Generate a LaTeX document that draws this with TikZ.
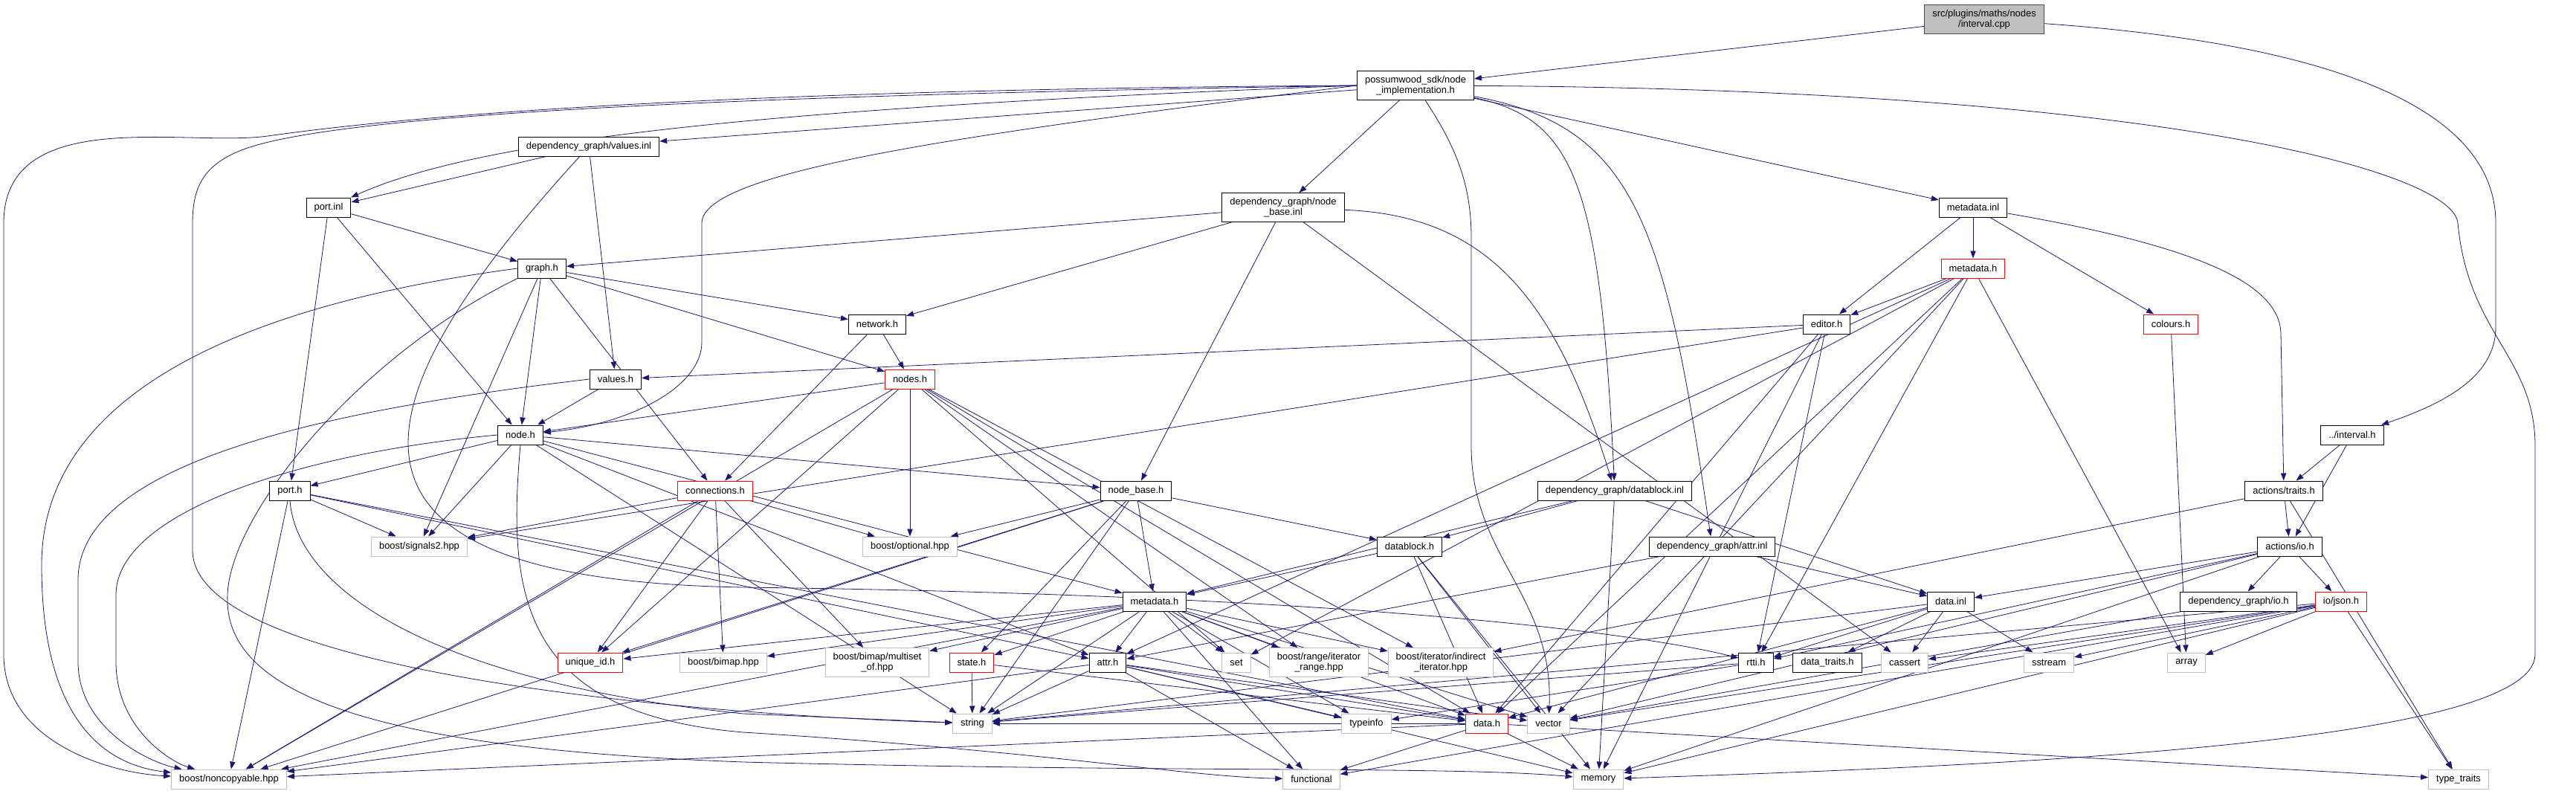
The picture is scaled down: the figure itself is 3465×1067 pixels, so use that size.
\documentclass[tikz,border=0pt]{standalone}
\usepackage{fontspec}
\setmainfont{Liberation Sans}
\usetikzlibrary{arrows.meta, backgrounds}

\definecolor{edgeblue}{RGB}{25,25,112}
\definecolor{sysgray}{RGB}{191,191,191}

\begin{document}
\begin{tikzpicture}[x=0.75pt, y=-0.75pt, >={Triangle[length=7.5pt, width=5.5pt]},
  font=\fontsize{9.7}{11}\selectfont,
  hdr/.style={draw=black, fill=white, line width=0.75pt, inner xsep=7.9pt, inner ysep=4.5pt, minimum height=19.5pt, align=center},
  sys/.style={hdr, draw=sysgray},
  redbox/.style={hdr, draw=red},
  rootbox/.style={hdr, fill=sysgray, draw=black!70},
  dep/.style={->, draw=edgeblue, line width=0.6pt}]

\useasboundingbox (0,0) rectangle (3465,1067);

% --- top: the source file and the sdk header ---
\node[rootbox] (root) at (2669, 26) {src/plugins/maths/nodes\\/interval.cpp};
\node[hdr] (nodeimpl) at (1904, 115) {possumwood\_sdk/node\\\_implementation.h};

% --- inl level ---
\node[hdr] (valuesinl) at (792, 197) {dependency\_graph/values.inl};
\node[hdr] (portinl) at (442, 279) {port.inl};
\node[hdr] (nodebaseinl) at (1726, 279) {dependency\_graph/node\\\_base.inl};
\node[hdr] (metainl) at (2654, 279) {metadata.inl};
\node[hdr] (graph) at (729, 361) {graph.h};
\node[redbox] (metasdk) at (2654, 361) {metadata.h};
\node[hdr] (network) at (1180, 436) {network.h};
\node[hdr] (editor) at (2457, 436) {editor.h};
\node[redbox] (colours) at (2920, 436) {colours.h};
\node[hdr] (values) at (828, 510) {values.h};
\node[redbox] (nodes) at (1224, 510) {nodes.h};
\node[hdr] (intervalh) at (3164, 585) {../interval.h};
\node[hdr] (node) at (700, 585) {node.h};
\node[hdr] (traits) at (3072, 660) {actions/traits.h};

% --- dependency_graph headers ---
\node[hdr] (port) at (390, 660) {port.h};
\node[redbox] (connections) at (962, 660) {connections.h};
\node[hdr] (nodebase) at (1528, 660) {node\_base.h};
\node[hdr] (datablockinl) at (2172, 660) {dependency\_graph/datablock.inl};
\node[sys] (signals) at (564, 735) {boost/signals2.hpp};
\node[sys] (optional) at (1224, 735) {boost/optional.hpp};
\node[hdr] (datablock) at (1896, 735) {datablock.h};
\node[hdr] (attrinl) at (2303, 735) {dependency\_graph/attr.inl};
\node[hdr] (actionsio) at (3080, 735) {actions/io.h};
\node[hdr] (metadata) at (1553, 809) {metadata.h};
\node[hdr] (datainl) at (2624, 809) {data.inl};
\node[hdr] (graphio) at (3011, 809) {dependency\_graph/io.h};
\node[redbox] (json) at (3149, 809) {io/json.h};

% --- leaves ---
\node[redbox] (uniqueid) at (794, 891) {unique\_id.h};
\node[sys] (bimap) at (973, 891) {boost/bimap.hpp};
\node[sys] (multiset) at (1180, 891) {boost/bimap/multiset\\\_of.hpp};
\node[redbox] (state) at (1307, 891) {state.h};
\node[hdr] (attr) at (1490, 891) {attr.h};
\node[sys] (set) at (1663, 891) {set};
\node[sys] (range) at (1774, 891) {boost/range/iterator\\\_range.hpp};
\node[sys] (indirect) at (1938, 891) {boost/iterator/indirect\\\_iterator.hpp};
\node[hdr] (rtti) at (2362, 891) {rtti.h};
\node[hdr] (datatraits) at (2458, 891) {data\_traits.h};
\node[sys] (cassert) at (2562, 891) {cassert};
\node[sys] (sstream) at (2756, 891) {sstream};
\node[sys] (array) at (2941, 891) {array};
\node[sys] (string) at (1308, 973) {string};
\node[sys] (typeinfo) at (1838, 973) {typeinfo};
\node[redbox] (datah) at (2000, 973) {data.h};
\node[sys] (vector) at (2083, 973) {vector};
\node[sys] (noncopyable) at (308, 1048) {boost/noncopyable.hpp};
\node[sys] (functional) at (1764, 1048) {functional};
\node[sys] (memory) at (2150, 1048) {memory};
\node[sys] (typetraits) at (3307, 1048) {type\_traits};

\begin{scope}[on background layer]
% long routed edges
\draw[dep] (root) .. controls (3150, 60) and (3357, 150) .. (3357, 300) -- (3357, 440) .. controls (3357, 510) and (3280, 545) .. (intervalh);
\draw[dep] (nodeimpl.west) .. controls (1300, 118) and (700, 135) .. (360, 183) .. controls (250, 198) and (5, 140) .. (5, 300) -- (5, 880) .. controls (5, 1000) and (150, 1040) .. (noncopyable);
\draw[dep] (nodeimpl.west) .. controls (1300, 124) and (500, 140) .. (330, 200) .. controls (275, 220) and (259, 250) .. (259, 300) -- (259, 740) .. controls (259, 900) and (900, 960) .. (string);
\draw[dep] (nodeimpl.west) .. controls (1000, 146) and (640, 190) .. (portinl);
\draw[dep] (nodeimpl.west) .. controls (1300, 180) and (944, 230) .. (944, 300) -- (944, 460) .. controls (944, 520) and (850, 570) .. (node);
\draw[dep] (nodeimpl) .. controls (2900, 120) and (3300, 230) .. (3306, 300) .. controls (3320, 450) and (3410, 480) .. (3410, 600) -- (3410, 880) .. controls (3410, 1000) and (2700, 1030) .. (memory);
\draw[dep] (nodeimpl) .. controls (1960, 200) and (1979, 250) .. (1979, 320) -- (1979, 600) .. controls (1979, 750) and (2090, 800) .. (vector);
\draw[dep] (nodeimpl) .. controls (2120, 160) and (2152, 250) .. (datablockinl);
\draw[dep] (nodeimpl) .. controls (2200, 170) and (2240, 300) .. (attrinl);
\draw[dep] (nodebaseinl) .. controls (2000, 290) and (2092, 400) .. (datablockinl);
\draw[dep] (metainl) .. controls (2950, 330) and (3068, 380) .. (3068, 450) -- (traits);
\draw[dep] (valuesinl) .. controls (460, 560) and (420, 780) .. (1000, 790) .. controls (1800, 800) and (2200, 850) .. (rtti);
\draw[dep] (graph.west) .. controls (400, 400) and (56, 500) .. (56, 760) .. controls (56, 980) and (150, 1030) .. (noncopyable);
\draw[dep] (values.west) .. controls (450, 550) and (105, 620) .. (105, 780) -- (105, 890) .. controls (105, 980) and (200, 1025) .. (noncopyable);
\draw[dep] (node.west) .. controls (400, 610) and (156, 690) .. (156, 800) -- (156, 890) .. controls (156, 980) and (230, 1025) .. (noncopyable);
\draw[dep] (graph.south west) .. controls (480, 480) and (300, 700) .. (306, 810) .. controls (310, 960) and (600, 1010) .. (1000, 1025) .. controls (1600, 1040) and (1950, 1030) .. (memory);
\draw[dep] (node.south) .. controls (682, 800) and (700, 960) .. (1000, 985) .. controls (1400, 1010) and (1600, 1045) .. (functional);
\draw[dep] (port.south) .. controls (400, 800) and (600, 920) .. (1000, 960) -- (string);

% straight edges
\foreach \a/\b in {root/nodeimpl,
  nodeimpl/valuesinl, nodeimpl/nodebaseinl, nodeimpl/metainl,
  valuesinl/portinl, valuesinl/values,
  portinl/graph, portinl/port, portinl/node,
  nodebaseinl/graph, nodebaseinl/network, nodebaseinl/nodebase, nodebaseinl/cassert,
  metainl/metasdk, metainl/editor, metainl/colours,
  graph/network, graph/nodes, graph/node, graph/connections, graph/signals,
  metasdk/editor, metasdk/attr, metasdk/set, metasdk/datah, metasdk/vector, metasdk/array, metasdk/rtti,
  editor/values, editor/signals, editor/rtti, editor/datah, editor/memory,
  colours/array,
  intervalh/traits, intervalh/actionsio,
  traits/actionsio, traits/typetraits, traits/indirect,
  actionsio/datainl, actionsio/graphio, actionsio/json, actionsio/rtti, actionsio/vector, actionsio/memory,
  values/node,
  network/nodes, network/connections,
  nodes/node, nodes/optional, nodes/set, nodes/range, nodes/indirect, nodes/uniqueid, nodes/noncopyable, nodes/datah,
  node/port, node/signals, node/nodebase, node/metadata, node/string, node/attr,
  port/signals, port/noncopyable, port/attr, port/datah,
  connections/signals, connections/optional, connections/uniqueid, connections/bimap, connections/multiset, connections/noncopyable,
  nodebase/optional, nodebase/datablock, nodebase/metadata, nodebase/state, nodebase/string, nodebase/uniqueid, nodebase/noncopyable,
  datablockinl/datablock, datablockinl/metadata, datablockinl/datainl, datablockinl/memory,
  datablock/metadata, datablock/datah, datablock/vector, datablock/memory,
  attrinl/attr, attrinl/datainl,
  metadata/attr, metadata/uniqueid, metadata/bimap, metadata/multiset, metadata/state, metadata/set, metadata/range,
  metadata/indirect, metadata/string, metadata/functional, metadata/datah, metadata/typeinfo, metadata/vector, metadata/noncopyable,
  datainl/rtti, datainl/datatraits, datainl/cassert, datainl/sstream, datainl/datah, datainl/string,
  graphio/vector,
  json/cassert, json/sstream, json/array, json/typetraits, json/vector, json/string, json/functional, json/memory,
  rtti/typeinfo, rtti/string,
  state/string, state/datah,
  attr/string, attr/noncopyable, attr/functional, attr/typeinfo, attr/datah, attr/vector, attr/memory,
  datah/string, datah/functional, datah/memory, datah/typetraits, datah/noncopyable}
  \draw[dep] (\a) -- (\b);
\end{scope}

\end{tikzpicture}
\end{document}
